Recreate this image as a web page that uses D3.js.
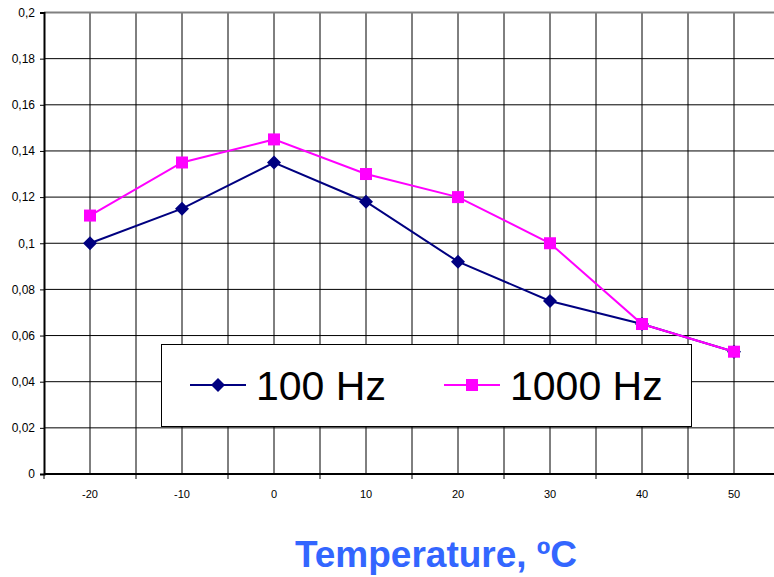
<!DOCTYPE html>
<html>
<head>
<meta charset="utf-8">
<script src="https://cdn.jsdelivr.net/npm/d3@7"></script>
<style>
  body { margin: 0; background: #fff; }
  svg { display: block; font-family: "Liberation Sans", Arial, sans-serif; }
</style>
</head>
<body>
<svg id="chart"></svg>
<script>
// Data
const temps = [-20, -10, 0, 10, 20, 30, 40, 50];
const hz100 = [0.100, 0.115, 0.135, 0.118, 0.092, 0.075, 0.065, 0.053];
const hz1000 = [0.112, 0.135, 0.145, 0.130, 0.120, 0.100, 0.065, 0.053];
const yTicks = [0, 0.02, 0.04, 0.06, 0.08, 0.1, 0.12, 0.14, 0.16, 0.18, 0.2];

const width = 774, height = 577;
const plotL = 44, plotT = 12.5, plotB = 474, plotR = 780;
const font = "'Liberation Sans', Arial, sans-serif";

const svg = d3.select("#chart")
    .attr("width", width)
    .attr("height", height);

const x = d3.scaleBand().domain(temps).range([plotL, plotR]).padding(0);
const y = d3.scaleLinear().domain([0, 0.2]).range([plotB, plotT]);

const fmt = d => String(+d.toFixed(2)).replace(".", ",");

// Gridlines
const grid = svg.append("g");
grid.selectAll(".hgrid")
    .data(yTicks.slice(1, -1))
    .enter().append("line")
    .attr("x1", plotL).attr("x2", plotR)
    .attr("y1", d => y(d)).attr("y2", d => y(d))
    .attr("stroke", "#000").attr("stroke-width", 1);

// vertical lines at band edges and band centres
const vx = [];
temps.forEach(t => {
    vx.push(x(t));
    vx.push(x(t) + x.bandwidth() / 2);
});
grid.selectAll(".vgrid")
    .data(vx.slice(1))
    .enter().append("line")
    .attr("x1", d => d).attr("x2", d => d)
    .attr("y1", plotT).attr("y2", plotB)
    .attr("stroke", "#000").attr("stroke-width", 1);

// top border
svg.append("line")
    .attr("x1", plotL).attr("x2", plotR)
    .attr("y1", plotT).attr("y2", plotT)
    .attr("stroke", "#808080").attr("stroke-width", 2);

// Y axis
const yAxis = svg.append("g")
    .attr("transform", `translate(${plotL},0)`)
    .call(d3.axisLeft(y).tickValues(yTicks).tickFormat(fmt).tickSize(4).tickPadding(5));
yAxis.select(".domain").attr("stroke", "#000").attr("stroke-width", 2);
yAxis.selectAll("text").attr("font-size", 12).attr("fill", "#000")
    .attr("font-family", font);

// X axis: ticks on category boundaries, labels at centres
const xAxis = svg.append("g").attr("transform", `translate(0,${plotB})`);
xAxis.append("line")
    .attr("x1", plotL).attr("x2", plotR)
    .attr("stroke", "#000").attr("stroke-width", 2);
xAxis.selectAll(".xtick")
    .data(temps)
    .enter().append("line")
    .attr("x1", d => x(d)).attr("x2", d => x(d))
    .attr("y1", 0).attr("y2", 5)
    .attr("stroke", "#000");
xAxis.selectAll(".xlabel")
    .data(temps)
    .enter().append("text")
    .attr("x", d => x(d) + x.bandwidth() / 2)
    .attr("y", 23.5)
    .attr("text-anchor", "middle")
    .attr("font-size", 11)
    .attr("font-family", font)
    .text(d => d);

const cx = d => x(d) + x.bandwidth() / 2;

// Series
const series = [
    { name: "100 Hz", values: hz100, color: "#000080", marker: "diamond" },
    { name: "1000 Hz", values: hz1000, color: "#FF00FF", marker: "square" }
];

function drawMarker(g, type, color) {
    if (type === "diamond") {
        g.append("path").attr("d", "M0,-7L7,0L0,7L-7,0Z").attr("fill", color);
    } else {
        g.append("rect").attr("x", -6).attr("y", -6).attr("width", 12).attr("height", 12).attr("fill", color);
    }
}

const line = d3.line().x(d => cx(d.t)).y(d => y(d.v));

series.forEach(s => {
    const pts = temps.map((t, i) => ({ t: t, v: s.values[i] }));
    svg.append("path")
        .datum(pts)
        .attr("d", line)
        .attr("fill", "none")
        .attr("stroke", s.color)
        .attr("stroke-width", 2);
    svg.append("g").selectAll("g")
        .data(pts)
        .enter().append("g")
        .attr("transform", d => `translate(${cx(d.t)},${y(d.v)})`)
        .each(function () { drawMarker(d3.select(this), s.marker, s.color); });
});

// Legend
const legend = svg.append("g");
legend.append("rect")
    .attr("x", 161.5).attr("y", 344.5)
    .attr("width", 530).attr("height", 82)
    .attr("fill", "#fff").attr("stroke", "#000").attr("stroke-width", 1);
const legendItems = [
    { x0: 190, tx: 256 },
    { x0: 444, tx: 510 }
];
series.forEach((s, i) => {
    const li = legendItems[i];
    const g = legend.append("g").attr("transform", `translate(0,385)`);
    g.append("line").attr("x1", li.x0).attr("x2", li.x0 + 56)
        .attr("stroke", s.color).attr("stroke-width", 2);
    const m = g.append("g").attr("transform", `translate(${li.x0 + 28},0)`);
    drawMarker(m, s.marker, s.color);
    g.append("text")
        .attr("x", li.tx).attr("y", 15)
        .attr("font-size", 41)
        .attr("font-family", font)
        .attr("fill", "#000")
        .text(s.name);
});

// X axis title
svg.append("text")
    .attr("x", 436).attr("y", 567)
    .attr("text-anchor", "middle")
    .attr("font-size", 37)
    .attr("font-weight", "bold")
    .attr("font-family", font)
    .attr("fill", "#3366FF")
    .text("Temperature, ºC");
</script>
</body>
</html>
